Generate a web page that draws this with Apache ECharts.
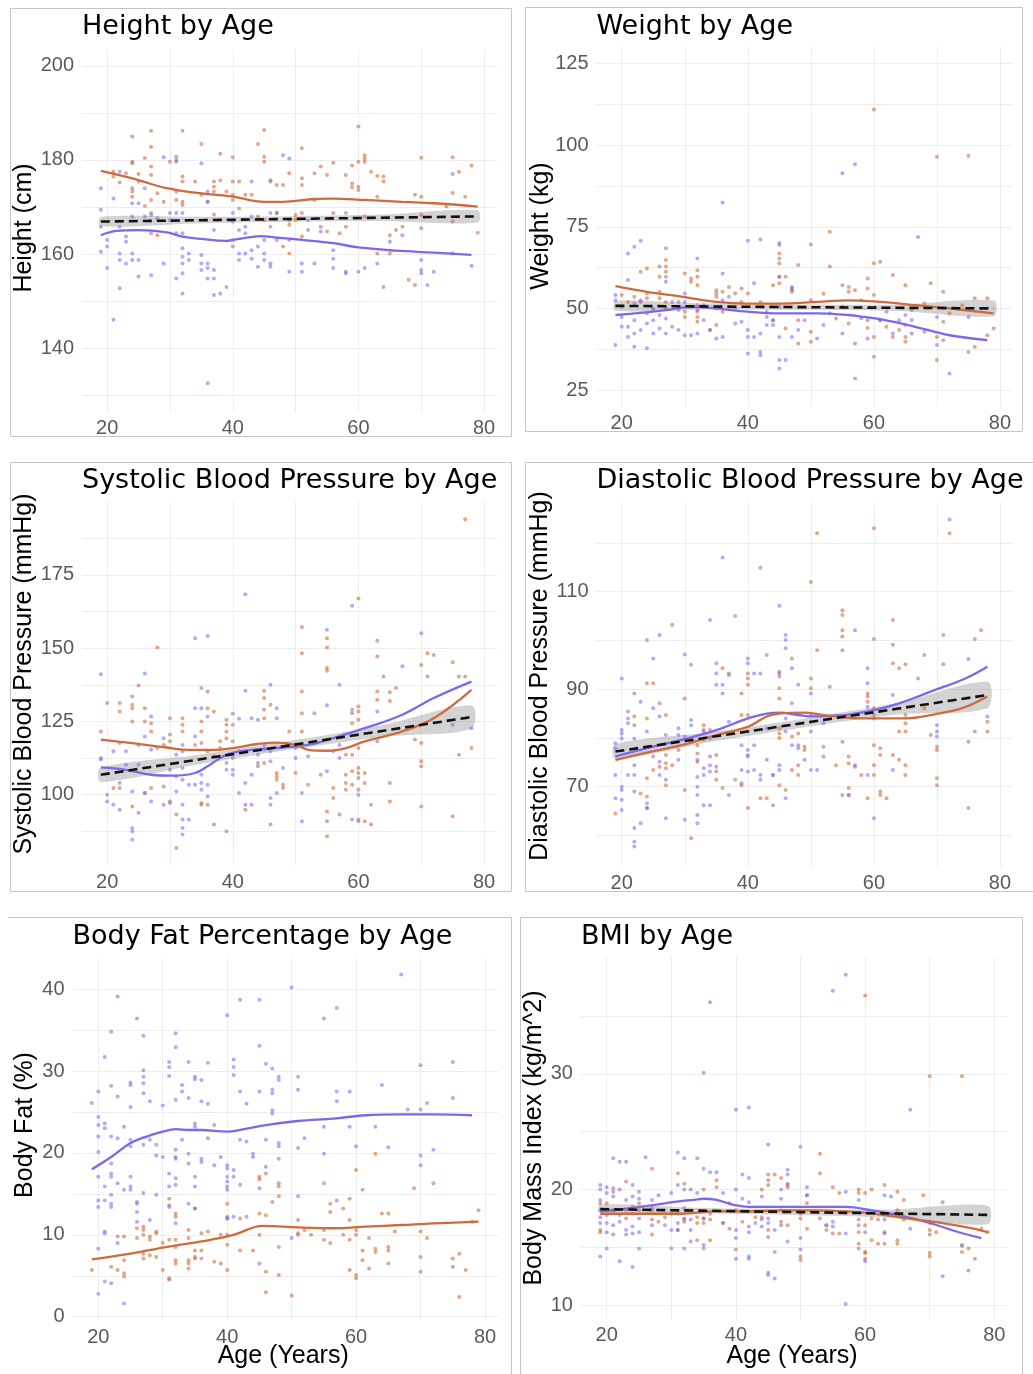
<!DOCTYPE html>
<html><head><meta charset="utf-8">
<script src="https://cdn.jsdelivr.net/npm/echarts@6/dist/echarts.min.js"></script>
<style>html,body{margin:0;padding:0;background:#fff}#c{width:1033px;height:1374px}</style>
</head><body><div id="c"></div>
<script>
// ---------- shared axis ticks ----------
const xTicks = [20,30,40,50,60,70,80];
const xLabels = [20,40,60,80];

// ---------- Height ----------
const heightF = [[19,174],[19,169.4],[19,165.8],[19,160.5],[20,163],[20,161.6],[20,157],[21,171.8],[21,146],[22,177.5],[22,165.8],[22,160.1],[22,158.7],[22,152.7],[23,163.7],[23,162.6],[23,158],[24,170.8],[24,168],[24,160.1],[24,158.7],[25,170.8],[25,158.7],[25,155.2],[26,174],[26,168],[27,168.3],[27,164.4],[27,155.5],[28,167.6],[29,180.6],[29,158],[30,168.7],[30,167.2],[31,180.7],[31,179.6],[31,168.7],[31,164.4],[31,154.8],[32,168.7],[32,164.4],[32,161.2],[32,159.4],[32,158],[32,155.9],[32,151.6],[33,160.1],[33,158.7],[35,179.3],[35,159.8],[35,158],[35,156.6],[36,173.3],[36,171.1],[36,158],[36,157],[36,154.8],[37,165.1],[37,156.6],[37,154.8],[37,151.3],[36,132.5],[38,151.6],[39,153],[40,168.7],[40,166.9],[40,163],[40,161.6],[41,165.1],[41,160.1],[41,158.7],[42,165.8],[42,164.4],[42,160.1],[43,175.4],[43,168],[43,160.8],[43,159],[44,161.6],[44,157.3],[45,163],[45,160.1],[45,158.7],[46,175.4],[46,168.7],[46,165.8],[46,158],[46,157.3],[47,168.7],[47,163],[48,181],[49,180.3],[49,163],[49,156.2],[51,158],[51,156.2],[52,167.2],[52,165.1],[53,158],[54,164.8],[56,160.8],[56,159],[56,157],[58,168.7],[58,156.2],[58,155.9],[60,156.2],[61,157],[63,158],[64,153],[65,162.6],[67,164],[70,165.5],[70,158.7],[70,156.6],[70,155.9],[71,153.4],[72,156.2],[75,177],[75,160.1],[78,157.5]];
const heightM = [[24,185],[27,186.2],[27,182.8],[32,186.2],[35,183.4],[38,181.3],[40,180.6],[44,183.4],[45,186.4],[45,180.7],[45,179.6],[51,182.5],[60,187.1],[61,181],[61,180.3],[61,179.6],[60,179.6],[56,179.4],[59,178.8],[70,180.5],[75,180.6],[78,178.8],[76,177.5],[62,177.5],[63,176.6],[54,178.6],[53,177.2],[49,177.2],[48,174.7],[51,176.1],[51,174.7],[55,176.8],[58,176.8],[59,175],[59,174.2],[60,174.3],[60,173.6],[64,176.5],[64,175.4],[63,172.2],[69,172.6],[70,172.2],[75,173],[77,172.2],[74,170.1],[79,164.5],[75,166.9],[70,168.3],[67,165.8],[66,165.1],[65,164],[65,160.1],[63,160.1],[68,154.5],[69,153.4],[58,165.8],[57,164.4],[61,168],[56,168.7],[55,164.8],[54,165.8],[53,171.5],[51,168.7],[51,163.7],[50,168.3],[50,167.3],[49,167.2],[49,166.2],[49,160.1],[48,161.6],[47,168.7],[47,174.7],[46,175.7],[43,172.6],[42,172.6],[41,175.4],[40,175.4],[40,172.6],[40,171.5],[39,173.3],[38,175.7],[37,174.3],[37,173.3],[37,175.4],[36,171.1],[35,172.6],[34,175.4],[32,176.5],[32,175.4],[32,171.1],[32,170.4],[31,173.3],[31,171.5],[30,179.6],[31,180],[29,171.1],[28,172.9],[27,178.6],[27,176.8],[27,171.5],[26,180.4],[26,170.2],[25,177],[25,175.4],[24,179.6],[24,179.3],[24,174],[24,173.3],[24,172.2],[23,177.2],[22,175.2],[21,176.5],[21,177.5],[28,164],[27,168.7],[37,168.4],[41,169.7],[44,168],[45,167.2]];
const heightLoessF = [[19,164],[21.5,164.9],[25,165.1],[29.5,164.6],[32,163.7],[35,163.2],[39,162.8],[40,163],[41,163.2],[44.5,163.8],[47,163.5],[51,163],[56,162.3],[60,161.4],[66,160.7],[72,160.3],[78,159.8]];
const heightLoessM = [[19,177.7],[24,176.1],[29.5,174],[35,172.9],[40,172.2],[45,171.1],[48,171.1],[53,171.7],[56,171.8],[61,171.5],[67,171.1],[72,170.8],[79,170.1]];
const heightFit = [[19,166.9],[79,168]];
const heightBand = [[19,165.9,167.9],[34,166.5,167.9],[49,166.85,168.05],[64,167.0,168.4],[79,166.7,169.3]];
const heightYTicks = [130,140,150,160,170,180,190,200];
const heightYLabels = [140,160,180,200];

// ---------- Weight ----------
const weightF = [[36,82.4],[55,91.4],[57,94.1],[67,71.9],[50,69.6],[40,70.7],[42,71.1],[45,70],[21,66.8],[22,68.9],[23,70.7],[26,62.8],[27,59.7],[27,58.2],[32,65.3],[36,60.7],[41,57.7],[45,59.7],[47,56.6],[47,55.6],[21,58.7],[19,54.1],[19,52.5],[19,38.8],[20,47.4],[20,44.4],[21,44.4],[21,41.3],[22,46.4],[22,42.3],[22,38.3],[23,52.5],[23,43.4],[24,48.5],[24,45.4],[24,37.8],[25,46.4],[25,42.3],[26,48],[26,43.9],[27,46.9],[27,42.3],[29,49.5],[29,43.4],[30,41.8],[31,41.8],[32,49.5],[32,42.3],[33,46.4],[34,43.4],[35,40.8],[36,41.3],[38,45.4],[39,45.9],[40,43.4],[40,41.3],[40,36.2],[41,41.3],[42,42.3],[42,36.7],[42,35.7],[43,47.4],[43,44.9],[44,46.4],[44,44.9],[45,41.3],[45,34.2],[45,31.6],[46,34.2],[47,41.3],[48,43.4],[49,46.4],[51,40.8],[52,44.9],[55,42.3],[57,39.3],[57,28.6],[59,40.8],[60,35.2],[61,46.4],[63,42.3],[64,46.4],[65,48],[66,42.3],[68,42.9],[70,38.8],[71,40.3],[72,30.1],[75,47.4],[70,47.4],[35,50],[36,52.5],[37,53.6],[30,54.6],[30,52],[31,50.5],[20,50.5],[22,51.5],[25,50],[28,52],[33,51],[38,50],[43,49],[45,50.5],[53,48.5],[58,47],[62,49],[66,46.5]];
const weightM = [[53,73.5],[60,110.9],[70,96.4],[75,96.7],[27,68.4],[27,64.8],[27,62.8],[27,61.2],[23,61.2],[24,62.2],[26,59.7],[30,60.7],[31,59.2],[31,58.2],[32,61.7],[32,59.7],[32,57.1],[35,55.6],[35,54.6],[35,53.6],[36,55.1],[37,56.6],[38,54.6],[39,56.1],[45,69.4],[45,66.8],[45,65.3],[45,63.8],[45,59.7],[45,57.7],[44,57.1],[46,59.7],[47,56.1],[47,55.1],[48,63.3],[53,62.8],[55,57.1],[56,56.6],[56,55.1],[57,55.6],[59,59.2],[59,56.1],[60,63.8],[61,64.3],[60,54.1],[63,60.2],[65,57.1],[69,57.7],[71,55.1],[76,53.1],[78,53.1],[79,43.9],[78,41.8],[76,38.3],[75,36.7],[70,34.2],[70,41.3],[71,45.9],[65,41.3],[65,39.8],[64,43.4],[65,44.9],[63,41.3],[62,44.4],[61,46.4],[60,41.3],[59,44],[59,46.4],[56,45.4],[54,46.9],[50,42.9],[50,39.8],[48,46.4],[48,39.3],[46,43.9],[44,46.4],[42,52],[40,54.6],[39,52],[37,50.5],[36,49],[35,44.9],[34,43.4],[32,49],[32,47.4],[32,45.9],[32,51],[30,49],[30,47.4],[29,52],[28,44.4],[27,52],[27,50],[26,55.1],[26,53.1],[25,49.5],[24,54.6],[24,53.1],[23,52],[22,53.6],[21,52],[20,54.1],[50,52.5],[52,54.5],[55,50.5],[58,52.5],[66,49.5],[68,51.5],[72,48.5],[74,51]];
const weightLoessF = [[19,48],[22,48.5],[27,49.5],[31,50.5],[35,50],[40,49],[45,48.5],[51,48.5],[56,48],[58.5,47.4],[61,46.7],[66.5,44.4],[72,41.8],[78,40.3]];
const weightLoessM = [[19,56.8],[24,55.1],[29.5,53.6],[35,52],[40,51.5],[45,51.5],[51,52],[56,52.5],[61,52],[66.5,51],[72,50],[79,48.5]];
const weightFit = [[19,50.8],[79,50]];
const weightBand = [[19,49.3,52.3],[34,49.7,51.5],[49,49.6,51.2],[64,49.2,51.2],[79,47.6,52.4]];
const weightYTicks = [25,37.5,50,62.5,75,87.5,100,112.5,125];
const weightYLabels = [25,50,75,100,125];

// ---------- Systolic ----------
const sysF = [[42,168.4],[59,164.5],[34,153.4],[36,154.2],[55,156.3],[70,155.1],[72,147.7],[67,143.8],[19,141.1],[26,141.4],[35,136.4],[42,135.5],[46,137.5],[57,137.5],[71,140.3],[20,131.3],[24,133.5],[34,129.5],[35,129.5],[36,126.7],[27,126.7],[40,127.6],[41,125.9],[43,126.1],[44,125.6],[47,129.5],[47,126.1],[55,130.5],[63,128.4],[59,127.8],[78,122.7],[19,112.5],[19,112],[20,100],[20,97.7],[21,114.8],[21,96.6],[22,117.6],[22,104],[22,94.9],[23,114.8],[23,110.2],[24,101.1],[24,88.6],[24,87.5],[24,84.7],[25,117],[25,110.2],[25,93.8],[26,119.9],[26,100.6],[27,115.3],[27,97.7],[29,119.3],[29,96.6],[30,108.5],[30,97.2],[31,113.6],[31,106.3],[31,101.1],[32,117],[32,114.8],[32,109.1],[32,105.1],[32,96.6],[32,91.5],[32,88.6],[32,86.4],[33,103.4],[33,91.5],[34,119.9],[34,103.4],[35,106.8],[35,104],[35,101.7],[36,103.4],[36,99.4],[37,89.8],[39,87.5],[39,110.8],[39,108.5],[40,112.5],[40,108.5],[40,106.8],[41,100.6],[42,104],[43,106.8],[43,96.6],[42,96.6],[44,113.6],[44,110.8],[45,117],[45,115.3],[46,114.8],[46,111.4],[46,98.9],[46,96.6],[47,100.6],[48,109.1],[50,115.9],[50,112.5],[51,100.6],[51,90.9],[52,113.1],[55,108],[55,90.9],[56,114.8],[57,117],[57,112.5],[59,91.5],[60,90.9],[60,100],[63,118.2],[70,96],[75,123.9]];
const sysM = [[77,194],[60,167],[51,157.2],[51,148.3],[55,153.4],[55,150.2],[55,143.2],[55,142.3],[63,152.5],[63,147.2],[71,148.3],[75,145.2],[64,140.3],[76,140.3],[77,140.3],[70,144.3],[65,135],[65,132],[66,136.4],[63,135.2],[63,132.4],[60,130.1],[60,128.4],[59,129],[60,125.6],[59,124.4],[51,135.2],[51,127.8],[51,121.6],[53,127.8],[45,135.5],[45,133],[45,129],[46,130.7],[45,126.1],[39,125.6],[39,123.9],[39,121.6],[39,119.3],[40,123.9],[36,135.2],[36,129.5],[35,125],[35,121.6],[37,128.4],[32,126.1],[32,123.9],[32,121.6],[30,126.1],[28,150.2],[25,137.3],[24,130.7],[24,129.5],[24,125],[22,131.3],[22,128.4],[19,121.6],[26,129.5],[26,125],[27,124.4],[27,121.6],[28,115.9],[29,117],[30,120.5],[30,118.2],[34,117],[35,117.6],[36,114.8],[37,113.1],[38,118.2],[38,115.9],[40,118.2],[41,114.8],[44,109.7],[45,110.8],[47,107.4],[47,106.3],[47,105.1],[48,103.4],[48,102.3],[49,121.6],[50,107.4],[54,106.8],[52,103.4],[56,102.3],[56,98.9],[55,94.3],[55,85.8],[58,113.6],[58,106.8],[58,104],[58,101.7],[59,113.6],[59,108],[59,103.4],[60,115.9],[60,109.1],[60,107.4],[60,105.7],[60,101.7],[61,107.4],[61,104],[57,93.2],[60,91.5],[61,90.9],[62,89.8],[62,96.6],[65,104],[65,97.7],[70,109.7],[70,111.4],[69,118.8],[70,117.6],[75,92.6],[76,113.6],[78,115.9],[46,89.8],[42,94.9],[35,96.6],[36,96.6],[31,93.2],[31,81.8],[30,97.7],[26,100.6],[24,96],[22,102.3],[21,102.3],[27,102.3],[29,102.8],[35,97.2]];
const sysLoessF = [[19,109.3],[23,108.5],[27,106.8],[30.5,106.5],[34,107.4],[36,109.7],[39,113.6],[43,115.3],[48,116.1],[52,117],[56,119.3],[61,122.7],[67,127.3],[72,133],[78,138.6]];
const sysLoessM = [[19,118.8],[24,117.6],[29.5,116.1],[33,115.3],[37,115.3],[40,115.9],[44,117.3],[47,117.8],[50,117],[52,115.3],[55,115],[58,115.9],[61,118.2],[67,121.6],[72,126.1],[78,135.8]];
const sysFit = [[19,106.8],[78,126.5]];
const sysBand = [[19,104.3,109.3],[34,110.1,113.5],[49,115.3,118.3],[64,119.8,123.8],[78,122.5,130.5]];
const sysYTicks = [87.5,100,112.5,125,137.5,150,162.5,175,187.5];
const sysYLabels = [100,125,150,175];

// ---------- Diastolic ----------
const diaF = [[36,117],[42,114.9],[38,105],[34,104.2],[45,107.1],[46,101.1],[46,100.1],[46,98.4],[57,102.1],[55,98],[24,100.1],[26,101.1],[20,92.2],[25,96.3],[30,97.1],[31,95],[35,95.3],[35,93.2],[35,90.9],[36,90.9],[36,89.1],[37,92.9],[40,96.3],[40,95.3],[41,93.2],[42,93.2],[43,97],[47,94.3],[48,90.9],[45,93.2],[50,89.1],[59,94.3],[59,91.2],[68,97],[71,95.1],[75,96.2],[67,92.2],[21,85.4],[21,84],[21,83],[20,81.6],[20,80.9],[20,79.9],[19,78.9],[19,77.9],[22,89.1],[22,79.9],[23,87.4],[24,81.3],[25,86.1],[26,84.4],[27,80.6],[29,82],[29,80.6],[30,80.3],[31,83.7],[31,82.6],[31,79.2],[33,81.3],[34,79.9],[37,83.3],[39,78.5],[40,77.5],[40,76.5],[41,78.5],[43,82],[46,84],[46,81.3],[47,87.1],[48,78.5],[50,84.7],[50,81.3],[52,83],[55,79.2],[59,86.4],[60,84],[70,82.6],[70,81.3],[78,84.4],[63,88.8],[19,72.4],[19,67.6],[20,70],[20,69.3],[20,67.3],[20,65.2],[21,72.4],[22,74.4],[22,72.4],[22,61.5],[22,58.7],[22,57.7],[23,62.5],[24,66.6],[24,65.6],[25,76.2],[26,75.1],[26,72.4],[27,71.4],[27,63.5],[29,75.5],[30,63.2],[32,75.5],[32,72],[32,70],[32,68.3],[32,64.2],[32,62.5],[33,73.8],[33,72.4],[34,76.2],[34,74.4],[34,73.1],[33,66.2],[34,66.2],[35,74.1],[37,68.3],[39,73.4],[39,70.7],[40,76.2],[40,73.1],[41,73.4],[42,72.4],[42,71.4],[43,75.5],[44,72.4],[44,66.2],[45,74.4],[45,73.4],[46,67.6],[47,78.5],[48,77.9],[49,75.5],[50,73.4],[51,73.4],[52,78.2],[55,68.3],[56,68.3],[57,74.4],[59,72.4],[60,63.5],[63,73.4],[70,80.3],[72,124.8]];
const diaM = [[51,122],[60,123],[72,122],[50,112],[55,106.2],[55,105.2],[55,102.1],[55,100.8],[51,98],[63,104.2],[63,99.1],[63,95.3],[64,94.3],[65,95.1],[60,100.3],[71,101.1],[76,100.3],[77,102.1],[28,103.2],[47,96.3],[45,93.6],[45,92.6],[45,90.2],[45,88.1],[40,93.2],[40,92.2],[40,90.9],[39,89.1],[36,94.3],[37,93.2],[24,91.2],[25,91.2],[26,87.1],[30,88.1],[27,84.7],[22,84.4],[22,82.6],[24,84],[33,82.6],[33,81.6],[34,81.6],[39,84.7],[40,84.7],[40,81.3],[45,82],[45,80.9],[45,80],[47,80.3],[48,80.9],[50,92.2],[50,90.2],[53,90.5],[59,89.1],[59,88.5],[59,87.4],[60,84.7],[60,86.1],[65,84.7],[65,83],[65,81.3],[64,81.3],[69,80.6],[76,81.3],[78,81.3],[68,86.1],[19,64.5],[22,69],[23,68.6],[24,71.7],[24,68],[24,65.6],[25,73.4],[26,74.1],[27,76.5],[27,74.8],[27,73.8],[27,70.3],[28,74.4],[29,77.5],[30,69.3],[31,59.4],[32,78.5],[32,76.8],[32,75.1],[33,79.6],[35,76.5],[35,73.1],[35,71.4],[36,69.7],[38,71.4],[39,70.3],[40,65.6],[42,67.6],[43,67.6],[44,72.4],[45,70.3],[46,69.3],[47,73.4],[48,72.4],[48,74.4],[49,78.2],[49,77.5],[52,76.2],[54,74.4],[56,76.2],[56,74.8],[56,69.7],[56,68.3],[57,74.1],[58,72.4],[59,67.6],[60,78.5],[60,74.4],[60,72.4],[61,69],[61,68.3],[61,77.9],[61,76.5],[62,67.6],[63,76.5],[64,75.5],[65,74.4],[65,72.4],[70,78.2],[70,77.5],[70,71.7],[70,70.3],[75,79.2],[75,65.6],[78,83.3]];
const diaLoessF = [[19,76.2],[24,77.9],[29.5,79.6],[35,81.6],[40,84],[43,85],[45,85.2],[48,84.7],[50.5,84.4],[54,84.6],[56,84.8],[60,85.7],[64,87.1],[69,89.5],[74.5,92.2],[78,94.6]];
const diaLoessM = [[19,75.5],[24,77],[29.5,78.5],[35,80.6],[40,82.3],[43,84.4],[45,85],[49,85.2],[51.5,84.8],[54,84.4],[58,84],[61,84],[65,84],[69.5,84.8],[74,86.1],[78,88.5]];
const diaFit = [[19,77.2],[78,88.8]];
const diaBand = [[19,75.7,78.7],[34,79.15,81.15],[49,82.2,84],[64,84.85,87.25],[78,86.1,91.5]];
const diaYTicks = [60,70,80,90,100,110,120];
const diaYLabels = [70,90,110];

// ---------- Body fat ----------
const fatF = [[67,41.8],[50,40.2],[23,39.1],[42,38.7],[40,36.8],[45,38.7],[55,36.4],[57,37.7],[26,36.4],[22,34.8],[32,34.6],[32,32.9],[27,34.3],[45,33.1],[21,31.7],[31,31.1],[31,30.5],[31,29.4],[34,31.1],[37,31],[41,31.4],[41,30.5],[41,29.5],[46,30.9],[47,30.3],[27,30.1],[27,29.3],[25,28.6],[25,28.3],[22,28.2],[19,26.1],[20,27.5],[23,26.9],[25,25.6],[27,28.5],[27,27.3],[28,26.3],[30,25.8],[32,26.5],[33,28.3],[33,27.5],[34,26.7],[35,29.3],[35,29],[36,28.9],[36,26.3],[37,26],[42,27.5],[43,26],[45,27.5],[47,27.7],[47,27.3],[47,25.2],[47,24.8],[48,29.3],[48,28.9],[51,29.3],[51,27.7],[57,27.5],[57,26.3],[59,27.5],[64,28.3],[68,25.3],[70,25.3],[71,26.1],[75,26.7],[20,24.4],[20,23.4],[20,22],[20,20.1],[21,23.6],[21,23],[22,22],[23,21.8],[24,23.2],[25,21.6],[25,20.8],[27,21],[28,21.6],[29,21],[29,19.7],[30,19.5],[32,20.4],[32,19.5],[32,19.3],[33,21.6],[34,19.9],[35,23.6],[35,23.2],[36,19.3],[37,21.8],[38,23.4],[39,19.5],[40,18.5],[40,18.1],[41,17.9],[42,21.6],[43,21.4],[44,19.9],[44,19.5],[46,21.6],[46,18.3],[48,21.2],[48,20.8],[48,19.3],[51,20.6],[52,21.8],[55,23.2],[55,19.9],[59,23.2],[60,20.8],[63,23.2],[65,20.7],[70,19.7],[70,18.5],[72,20.4],[20,17.1],[21,15.9],[22,18.7],[22,17.5],[22,17.1],[23,16.3],[24,15.5],[25,17.1],[25,15.9],[26,14],[26,13.8],[27,15.1],[29,14.9],[31,17.5],[31,15.9],[32,16.9],[32,16.1],[34,18.7],[35,17.1],[35,15.9],[36,18.9],[38,18.5],[40,17.1],[40,16.5],[40,15.9],[40,15.5],[41,17.1],[42,16.1],[45,15.7],[51,14.7],[57,14.2],[20,14.2],[20,13.4],[21,14.2],[22,13.8],[22,14.9],[22,13.4],[21,10.4],[21,10.2],[20,8.3],[23,9],[25,15.5],[26,12.8],[26,11.6],[28,11.8],[31,13.6],[32,11.4],[34,13.8],[35,13.2],[40,12.2],[40,12],[41,12.2],[43,12.2],[45,6.5],[50,9.6],[36,7.1],[20,2.8],[21,4.3],[22,4.1],[24,1.6]];
const fatM = [[70,30.7],[75,31.1],[63,19.9],[60,17.9],[46,17.5],[45,17.1],[45,16.8],[48,16.3],[48,15.9],[47,14],[48,14.7],[55,16.3],[72,16.3],[69,15.7],[61,15.5],[59,14.4],[58,13.2],[56,13.8],[56,12.8],[31,14.4],[32,12.6],[32,12.2],[31,13.4],[35,13.2],[40,13.8],[40,12],[42,12],[45,12.6],[46,12.4],[51,11.8],[64,12.6],[65,12.6],[59,11.8],[27,11],[27,10.6],[27,10],[28,9.8],[28,9.4],[29,10.2],[29,10.4],[23,9.8],[24,9.8],[26,10.8],[26,9.6],[30,9],[31,9.4],[32,9.4],[32,8.5],[34,10.6],[34,9.6],[35,8.1],[36,8.1],[36,10.2],[37,10.4],[39,10],[40,10],[40,8.8],[42,8.1],[44,8.1],[45,10],[48,8.5],[51,10.2],[51,10],[52,10.6],[53,10],[55,10.6],[55,9.4],[56,9],[58,10],[59,9.4],[60,10.6],[60,10],[61,8.1],[61,6.9],[62,9.6],[63,8.3],[63,7.9],[65,8.5],[65,8.1],[66,10.4],[70,10.4],[70,7.3],[71,9.6],[78,11.6],[79,13],[75,7.1],[75,6.1],[76,7.7],[77,5.7],[76,2.4],[70,5.5],[65,6.5],[62,5.9],[60,5.1],[60,4.7],[59,5.7],[50,2.6],[46,3],[48,5.1],[46,5.5],[40,5.7],[38,6.7],[39,6.5],[35,7.3],[35,7.1],[34,6.9],[34,6.5],[34,5.9],[32,6.9],[32,6.5],[31,4.7],[31,4.5],[30,5.7],[27,7.7],[27,7.1],[24,6.9],[24,5.3],[24,4.9],[22,6.1],[23,5.7],[19,5.7],[29,7.3],[28,7.5]];
const fatLoessF = [[19,18],[22,19.5],[25,21.2],[27.5,22],[30,22.6],[32,22.9],[34,22.8],[36,22.8],[40,22.6],[42,22.8],[46,23.4],[51,23.9],[56.5,24.2],[61.5,24.6],[67,24.7],[72,24.7],[78,24.6]];
const fatLoessM = [[19,7],[25,7.7],[30.5,8.5],[36,9.2],[41,10],[45.5,11.1],[51,10.9],[56.5,10.8],[61.5,11],[67,11.2],[72,11.4],[79,11.6]];
const fatYTicks = [0,5,10,15,20,25,30,35,40];
const fatYLabels = [0,10,20,30,40];

// ---------- BMI ----------
const bmiF = [[57,38.6],[55,37.2],[36,36.2],[35,30.1],[40,26.9],[42,27.1],[67,26.9],[45,23.9],[50,23.7],[21,22.7],[22,22.4],[23,22.4],[26,22.8],[31,23.2],[32,22.7],[34,22.7],[35,21.8],[36,21.5],[37,21.5],[41,21.3],[42,21],[48,21.7],[48,21.3],[19,20.4],[19,20],[19,19.1],[20,20.2],[20,19.7],[21,20.1],[21,19.4],[22,20],[23,19.1],[24,20.4],[24,19.4],[25,19.8],[25,19.2],[27,19.1],[28,19.5],[30,19.7],[31,20.4],[32,20],[33,20],[34,19.7],[38,19.7],[40,20],[41,19.2],[42,18.9],[44,19.4],[47,20],[47,19.2],[48,20.5],[51,19.5],[51,20.2],[57,19.8],[59,19.1],[63,19.5],[64,19.4],[70,17.2],[19,18.2],[19,17.6],[19,17.1],[20,17.8],[20,17.1],[20,16.3],[21,18.2],[21,16.9],[22,17.8],[22,17.2],[23,16.5],[23,16.1],[24,17.9],[24,16.8],[24,16.2],[25,17.5],[25,16.3],[27,18.2],[27,16.9],[29,16.9],[30,16.5],[31,17.1],[31,16.5],[32,18.4],[32,17.4],[33,17.4],[33,16.5],[35,18.1],[35,17.5],[36,17.9],[38,17.1],[40,16.5],[40,15.8],[42,16.8],[42,16.3],[43,17.1],[44,17.4],[44,16.8],[45,17.5],[45,17.1],[46,16.5],[47,16.9],[48,15.5],[50,15.8],[54,16.9],[55,17.2],[55,16.8],[57,16.2],[59,16.9],[60,16.3],[63,17.4],[63,16.2],[67,16.6],[19,14.2],[20,14.9],[22,13.8],[24,13.3],[25,14.9],[30,14.9],[32,14.9],[33,15.5],[35,15.2],[35,14.9],[40,14],[42,14.2],[42,14],[45,12.8],[45,12.6],[46,12.3],[50,14.8],[60,13.8],[72,12.5],[75,15.1],[57,10.1]];
const bmiM = [[60,36.8],[70,29.8],[75,29.8],[53,23.1],[53,21.4],[31,21.4],[32,20.5],[35,20],[37,20.8],[37,20.2],[27,21.8],[23,20.7],[21,19.8],[45,21.3],[46,21.3],[45,20.8],[45,20.4],[47,21],[48,20.4],[48,20.2],[44,20],[69,19.5],[72,18.9],[63,20.4],[61,20],[59,20],[59,19.7],[60,19.7],[55,20.2],[56,19.7],[51,19.5],[51,18.8],[65,19.8],[66,19.1],[19,18.8],[20,18.8],[21,18.2],[23,18.2],[23,17.5],[24,18.5],[25,18.8],[25,18.2],[27,18.4],[27,17.4],[28,17.2],[29,17.6],[30,17.9],[31,17.9],[32,17.5],[32,17.2],[34,17.6],[34,17.1],[35,17.5],[35,17.1],[36,17.4],[38,17.1],[39,18.8],[39,16.6],[40,18.2],[41,17.2],[43,18.1],[43,17.6],[44,17.6],[45,16.5],[45,15.9],[47,18.2],[47,17.2],[48,16.9],[50,17.9],[50,17.5],[51,16.6],[53,17.5],[54,16.9],[54,16.5],[55,16.2],[56,16.2],[59,17.4],[59,16.3],[60,16.9],[61,17.5],[62,17.4],[64,17.8],[65,18.2],[66,17.4],[70,17.1],[70,16.5],[70,16.1],[71,16.3],[75,15.2],[79,16.3],[78,16.6],[19,16.5],[19,16.3],[21,16.1],[27,16.1],[40,14.8],[46,14.6],[50,14.2],[50,13.9],[59,15.3],[59,14.9],[60,14.6],[60,14.5],[60,14],[61,15.6],[62,15.3],[63,16.3],[63,15.3],[65,15.6],[65,15.3],[70,14.5],[70,14.2],[75,14.6],[76,14.9],[77,14],[76,13],[34,15.6],[36,15.6],[31,16.5]];
const bmiLoessF = [[19,18.1],[24,18.4],[29,18.8],[31.5,19],[33.5,19.1],[35,19.2],[37,19.1],[39.5,18.7],[42,18.5],[47,18.5],[52,18.5],[57,18.5],[61,18.2],[65,17.8],[70,17.1],[74.5,16.3],[78,15.8]];
const bmiLoessM = [[19,17.9],[26,17.9],[31.5,17.9],[37,18.1],[42,18.1],[47,18.2],[52,18.2],[57,18.1],[61.5,17.9],[66.5,17.5],[72,17.1],[77,16.6],[79,16.3]];
const bmiFit = [[19,18.3],[79,17.8]];
const bmiBand = [[19,17.9,18.7],[34,17.92,18.43],[49,17.8,18.3],[64,17.57,18.27],[79,17.0,18.6]];
const bmiYTicks = [10,15,20,25,30,35];
const bmiYLabels = [10,20,30];

// ---------- layout ----------
const panels = [
  {title:'Height by Age', yName:'Height (cm)', F:heightF, M:heightM, lF:heightLoessF, lM:heightLoessM, fit:heightFit, band:heightBand,
   yMin:126.5, yMax:203.5, yT:heightYTicks, yL:heightYLabels, g:[82,49.5,414.6,362], tY:27, yNX:24, yNY:228},
  {title:'Weight by Age', yName:'Weight (kg)', F:weightF, M:weightM, lF:weightLoessF, lM:weightLoessM, fit:weightFit, band:weightBand,
   yMin:20, yMax:130, yT:weightYTicks, yL:weightYLabels, g:[596.5,47,416.1,359.5], tY:26.5, yNX:541, yNY:226},
  {title:'Systolic Blood Pressure by Age', yName:'Systolic Blood Pressure (mmHg)', F:sysF, M:sysM, lF:sysLoessF, lM:sysLoessM, fit:sysFit, band:sysBand,
   yMin:76, yMax:200, yT:sysYTicks, yL:sysYLabels, g:[82,501.7,414.6,363.3], tY:481, yNX:24, yNY:674},
  {title:'Diastolic Blood Pressure by Age', yName:'Diastolic Blood Pressure (mmHg)', F:diaF, M:diaM, lF:diaLoessF, lM:diaLoessM, fit:diaFit, band:diaBand,
   yMin:53.6, yMax:128.4, yT:diaYTicks, yL:diaYLabels, g:[596.5,502,416.1,364.6], tY:480.5, yNX:540, yNY:676},
  {title:'Body Fat Percentage by Age', yName:'Body Fat (%)', F:fatF, M:fatM, lF:fatLoessF, lM:fatLoessM, fit:null, band:null,
   yMin:-0.4, yMax:43.8, yT:fatYTicks, yL:fatYLabels, g:[72.5,958,425.4,362], tY:936.5, yNX:25, yNY:1125, xName:true},
  {title:'BMI by Age', yName:'Body Mass Index (kg/m^2)', F:bmiF, M:bmiM, lF:bmiLoessF, lM:bmiLoessM, fit:bmiFit, band:bmiBand,
   yMin:8.8, yMax:40.1, yT:bmiYTicks, yL:bmiYLabels, g:[580.9,957.3,426.3,361.6], tY:936.5, yNX:534, yNY:1138, xName:true}
];

const BLUE_PT = 'rgba(123,104,238,0.7)';
const ORANGE_PT = 'rgba(205,100,45,0.7)';
const BLUE_LN = '#7b68ee';
const ORANGE_LN = '#cf6a3c';
const GRID_C = '#ededed';
const labelFont = 'Liberation Sans, Arial, sans-serif';

const grids = [], xAxes = [], yAxes = [], series = [], graphics = [];
panels.forEach((p, i) => {
  grids.push({left:p.g[0], top:p.g[1], width:p.g[2], height:p.g[3], containLabel:false});
  xAxes.push({type:'value', gridIndex:i, min:16, max:82,
    axisLine:{show:false}, axisTick:{show:false, customValues:xTicks},
    axisLabel:{customValues:xLabels, fontSize:20, color:'#5a5a5a', margin:7, fontFamily:labelFont},
    splitLine:{show:true, lineStyle:{color:GRID_C, width:1}}});
  yAxes.push({type:'value', gridIndex:i, min:p.yMin, max:p.yMax,
    axisLine:{show:false}, axisTick:{show:false, customValues:p.yT},
    axisLabel:{customValues:p.yL, fontSize:20, color:'#5a5a5a', margin:8, fontFamily:labelFont},
    splitLine:{show:true, lineStyle:{color:GRID_C, width:1}}});
  const ax = {xAxisIndex:i, yAxisIndex:i};
  series.push(Object.assign({type:'scatter', data:p.M, symbolSize:4, itemStyle:{color:ORANGE_PT}, silent:true}, ax));
  series.push(Object.assign({type:'scatter', data:p.F, symbolSize:4, itemStyle:{color:BLUE_PT}, silent:true}, ax));
  if (p.band) {
    const band = p.band;
    series.push(Object.assign({type:'custom', data:band, encode:{x:0, y:[1,2]}, silent:true, clip:false,
      renderItem:(params, api) => {
        if (params.dataIndex !== 0) return null;
        const pts = [];
        band.forEach(b => pts.push(api.coord([b[0], b[1]])));
        for (let k = band.length - 1; k >= 0; k--) pts.push(api.coord([band[k][0], band[k][2]]));
        return {type:'polygon', shape:{points:pts, smooth:0.3}, style:{fill:'rgba(150,150,150,0.42)'}};
      }}, ax));
  }
  series.push(Object.assign({type:'line', data:p.lF, smooth:0.4, showSymbol:false, silent:true, lineStyle:{color:BLUE_LN, width:2.3}}, ax));
  series.push(Object.assign({type:'line', data:p.lM, smooth:0.4, showSymbol:false, silent:true, lineStyle:{color:ORANGE_LN, width:2.3}}, ax));
  if (p.fit) {
    series.push(Object.assign({type:'line', data:p.fit, showSymbol:false, silent:true, lineStyle:{color:'#111', width:2.6, type:[9,5]}}, ax));
  }
  graphics.push({type:'text', x:p.g[0], y:p.tY, silent:true,
    style:{text:p.title, font:'27px "DejaVu Sans", sans-serif', fill:'#000', align:'left', verticalAlign:'middle'}});
  graphics.push({type:'text', x:p.yNX, y:p.yNY, rotation:Math.PI/2, silent:true,
    style:{text:p.yName, font:'25px "Liberation Sans", Arial, sans-serif', fill:'#000', align:'center', verticalAlign:'middle'}});
  if (p.xName) {
    graphics.push({type:'text', x:p.g[0] + p.g[2]/2 - 2, y:1356, silent:true,
      style:{text:'Age (Years)', font:'25px "Liberation Sans", Arial, sans-serif', fill:'#000', align:'center', verticalAlign:'middle'}});
  }
});

// panel frames
const FR = '#c6c6c6';
function rectFrame(x, y, w, h) {
  graphics.push({type:'rect', silent:true, shape:{x:x, y:y, width:w, height:h}, style:{fill:null, stroke:FR, lineWidth:1}});
}
function line(x1, y1, x2, y2) {
  graphics.push({type:'line', silent:true, shape:{x1:x1, y1:y1, x2:x2, y2:y2}, style:{stroke:FR, lineWidth:1}});
}
rectFrame(10.5, 8.5, 501, 428);
rectFrame(525.5, 7.5, 497, 424);
rectFrame(10.5, 462.5, 501, 429);
rectFrame(525.5, 462.5, 520, 429);
line(8, 917.5, 511.5, 917.5); line(511.5, 917.5, 511.5, 1380);
rectFrame(520.5, 917.5, 502, 470);

const chart = echarts.init(document.getElementById('c'), null, {renderer:'canvas'});
chart.setOption({
  animation:false,
  backgroundColor:'#fff',
  grid:grids, xAxis:xAxes, yAxis:yAxes, series:series, graphic:graphics
});
</script>
</body></html>
